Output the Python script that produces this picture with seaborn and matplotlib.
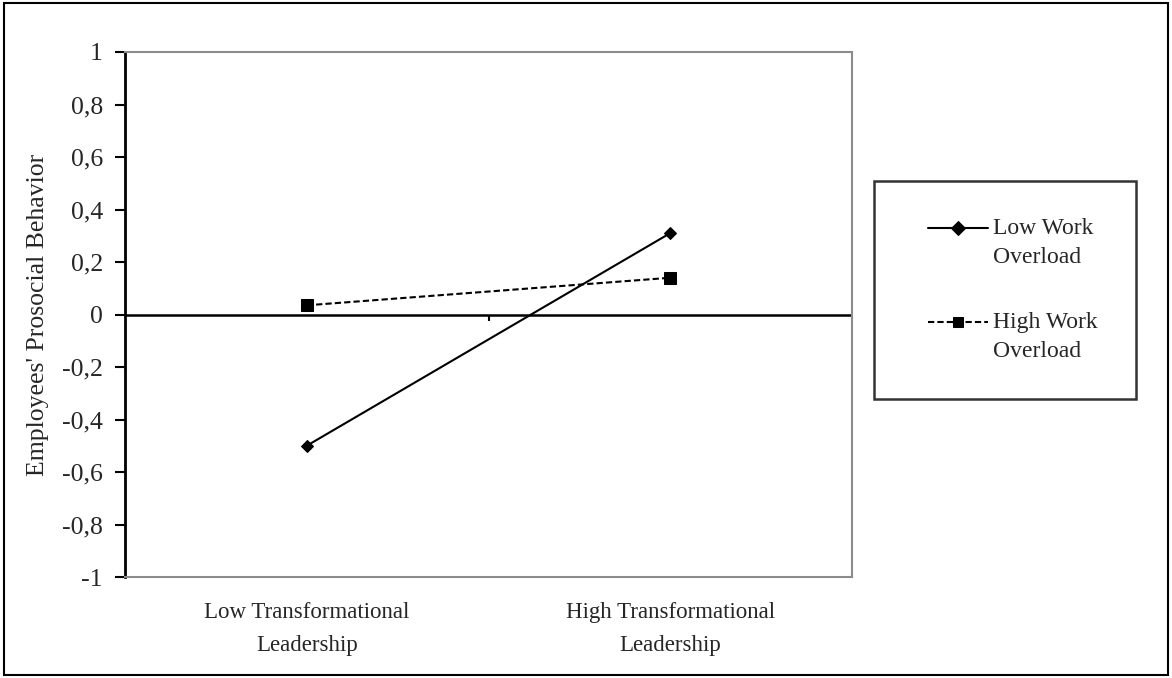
import matplotlib
matplotlib.use("Agg")
import matplotlib.pyplot as plt
from matplotlib.transforms import Affine2D
import seaborn as sns
import pandas as pd

# values
categories = ["Low Transformational\nLeadership", "High Transformational\nLeadership"]
low_overload = [-0.50, 0.31]
high_overload = [0.035, 0.14]
series_names = ["Low Work\nOverload", "High Work\nOverload"]
yticks = [1, 0.8, 0.6, 0.4, 0.2, 0, -0.2, -0.4, -0.6, -0.8, -1]

df = pd.DataFrame({
    "x": [0, 1, 0, 1],
    "y": low_overload + high_overload,
    "group": [series_names[0]] * 2 + [series_names[1]] * 2,
})

sns.set_style("white")
plt.rcParams["font.family"] = ["Liberation Serif", "DejaVu Serif"]

fig = plt.figure(figsize=(11.72, 6.78), dpi=100)
ax = fig.add_axes([125 / 1172, 1 - 577 / 678, 727 / 1172, 525 / 678])

sns.lineplot(data=df, x="x", y="y", hue="group", style="group",
             palette=["black", "black"], markers=["D", "s"],
             dashes=[(None, None), (3, 1.5)], markersize=7,
             linewidth=1.5, markeredgecolor="black", ax=ax)
for ln, ms in zip(ax.lines[:2], [6, 8]):
    ln.set_markersize(ms)

ax.set_xlim(-0.5, 1.5)
ax.set_ylim(-1, 1)
ax.set_xticks([0, 1])
ax.set_xticklabels(categories, fontsize=16.5, linespacing=1.75)
ax.tick_params(axis="x", length=0, pad=18)
ax.set_yticks(yticks)
ax.set_yticklabels([f"{v:g}".replace(".", ",") for v in yticks], fontsize=18.5)
ax.tick_params(axis="y", direction="out", length=7, width=1.5, color="black", left=True, pad=9)
ax.set_xlabel("")
ax.set_ylabel("Employees' Prosocial Behavior", fontsize=18.5, labelpad=9)

for side in ["top", "right", "bottom"]:
    ax.spines[side].set_color("#8c8c8c")
    ax.spines[side].set_linewidth(1.5)
ax.spines["left"].set_color("black")
ax.spines["left"].set_linewidth(2)

# horizontal axis crossing at zero with its middle tick
ax.axhline(0, color="black", linewidth=1.8, zorder=1)
ax.vlines(0.5, -0.025, 0, color="black", linewidth=1.5)

leg = ax.legend(loc="center left", bbox_to_anchor=(874 / 1172, 1 - 290 / 678),
                bbox_transform=fig.transFigure, frameon=True, fontsize=17,
                handlelength=2.55, labelspacing=1.9, borderpad=1.6,
                borderaxespad=0, handletextpad=0.9, fancybox=False)
leg.get_frame().set_edgecolor("black")
leg.get_frame().set_linewidth(1.8)
for t in leg.get_texts():
    t.set_linespacing(1.45)

# put the legend keys level with the first line of each label, a little to the right
for col in leg._legend_handle_box.get_children():
    for row in col.get_children():
        da = row.get_children()[0]
        for a in da.get_children():
            a.set_transform(a.get_transform() + Affine2D().translate(16, 15))

# border round the whole figure
fig.patches.append(plt.Rectangle((0.003, 0.004), 0.994, 0.992, transform=fig.transFigure,
                                 fill=False, edgecolor="black", linewidth=1.5))

fig.savefig("out.png", dpi=100)
